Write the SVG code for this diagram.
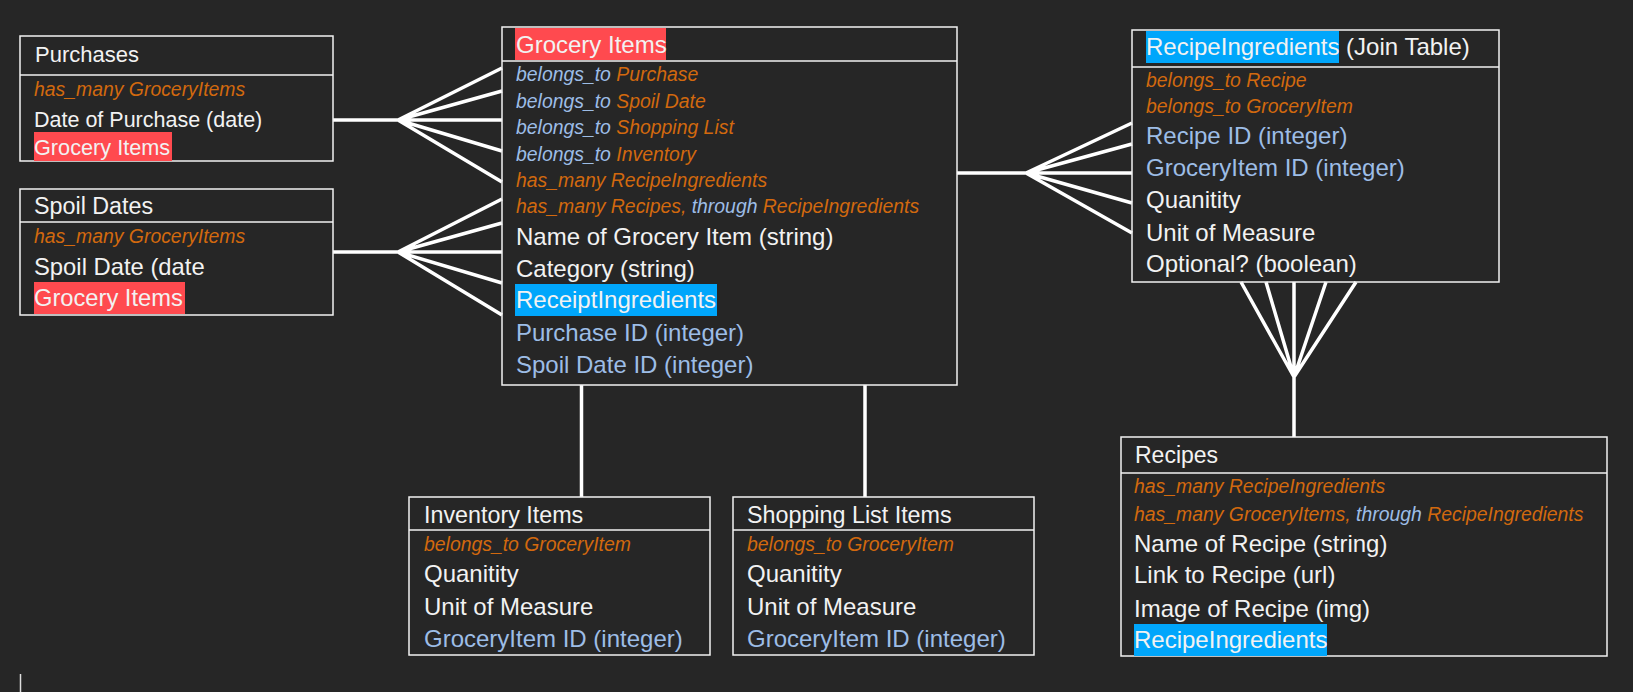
<svg xmlns="http://www.w3.org/2000/svg" width="1633" height="692" viewBox="0 0 1633 692">
<style>
.box{fill:none;stroke:#f2f2f2;stroke-width:1.5}
.t{font-family:"Liberation Sans",Arial,sans-serif;fill:#f2f2f2}
.i{font-family:"Liberation Sans",Arial,sans-serif;font-style:italic;font-size:19.4px}
.o{fill:#d2690e}
.b{fill:#9dbde6}
.w{fill:#f2f2f2}
.hr{fill:#ff4a4f}
.hb{fill:#00a6fb}
.c{stroke:#ffffff;stroke-width:3.5;fill:none;stroke-linecap:butt}
</style>
<rect width="1633" height="692" fill="#262626"/>
<g id="connectors">
<path class="c" d="M333 120H398M398 120L502 68M398 120L502 91M398 120L502 120M398 120L502 151M398 120L502 182"/>
<path class="c" d="M333 252H398M398 252L502 199M398 252L502 223M398 252L502 252M398 252L502 283M398 252L502 315"/>
<path class="c" d="M957 173H1026M1026 173L1132 123M1026 173L1132 144M1026 173L1132 173M1026 173L1132 203M1026 173L1132 233"/>
<path class="c" d="M1294 437V377M1294 377L1241 282M1294 377L1266 282M1294 377L1294 282M1294 377L1326 282M1294 377L1356 282"/>
<path class="c" d="M581.5 385V497M865 385V497"/>
</g>
<g id="purchases">
<rect class="box" x="20" y="36" width="313" height="125"/>
<line class="box" x1="20" y1="75" x2="333" y2="75"/>
<text class="t" x="35" y="62" font-size="22">Purchases</text>
<text class="i o" x="34" y="96">has_many GroceryItems</text>
<text class="t" x="34" y="127" font-size="21.5">Date of Purchase (date)</text>
<rect class="hr" x="34" y="132" width="138" height="29"/>
<text class="t" x="34" y="155" font-size="21.7">Grocery Items</text>
</g>
<g id="spoil-dates">
<rect class="box" x="20" y="189" width="313" height="126"/>
<line class="box" x1="20" y1="222" x2="333" y2="222"/>
<text class="t" x="34" y="214" font-size="23.3">Spoil Dates</text>
<text class="i o" x="34" y="243">has_many GroceryItems</text>
<text class="t" x="34" y="275" font-size="23.8">Spoil Date (date</text>
<rect class="hr" x="34" y="282" width="151" height="32"/>
<text class="t" x="34" y="306" font-size="23.7">Grocery Items</text>
</g>
<g id="grocery-items">
<rect class="box" x="502" y="27" width="455" height="358"/>
<line class="box" x1="502" y1="61" x2="957" y2="61"/>
<rect class="hr" x="515" y="28" width="151" height="32"/>
<text class="t" x="516" y="53" font-size="24">Grocery Items</text>
<text class="i" x="516" y="81"><tspan class="b">belongs_to</tspan><tspan class="o"> Purchase</tspan></text>
<text class="i" x="516" y="108"><tspan class="b">belongs_to</tspan><tspan class="o"> Spoil Date</tspan></text>
<text class="i" x="516" y="134"><tspan class="b">belongs_to</tspan><tspan class="o"> Shopping List</tspan></text>
<text class="i" x="516" y="161"><tspan class="b">belongs_to</tspan><tspan class="o"> Inventory</tspan></text>
<text class="i o" x="516" y="187">has_many RecipeIngredients</text>
<text class="i" x="516" y="213"><tspan class="o">has_many Recipes,</tspan><tspan class="b"> through</tspan><tspan class="o"> RecipeIngredients</tspan></text>
<text class="t" x="516" y="245" font-size="24">Name of Grocery Item (string)</text>
<text class="t" x="516" y="277" font-size="24">Category (string)</text>
<rect class="hb" x="515" y="284" width="202" height="32"/>
<text class="t" x="516" y="308" font-size="24">ReceiptIngredients</text>
<text class="t b" x="516" y="341" font-size="24">Purchase ID (integer)</text>
<text class="t b" x="516" y="373" font-size="24">Spoil Date ID (integer)</text>
</g>
<g id="recipe-ingredients">
<rect class="box" x="1132" y="30" width="367" height="252"/>
<line class="box" x1="1132" y1="67" x2="1499" y2="67"/>
<rect class="hb" x="1146" y="31" width="193" height="32"/>
<text class="t" x="1146" y="55" font-size="24">RecipeIngredients (Join Table)</text>
<text class="i o" x="1146" y="87">belongs_to Recipe</text>
<text class="i o" x="1146" y="113">belongs_to GroceryItem</text>
<text class="t b" x="1146" y="144" font-size="24">Recipe ID (integer)</text>
<text class="t b" x="1146" y="176" font-size="24">GroceryItem ID (integer)</text>
<text class="t" x="1146" y="208" font-size="24">Quanitity</text>
<text class="t" x="1146" y="240.5" font-size="24">Unit of Measure</text>
<text class="t" x="1146" y="272" font-size="24">Optional? (boolean)</text>
</g>
<g id="recipes">
<rect class="box" x="1121" y="437" width="486" height="219"/>
<line class="box" x1="1121" y1="473" x2="1607" y2="473"/>
<text class="t" x="1135" y="463" font-size="23">Recipes</text>
<text class="i o" x="1134" y="493">has_many RecipeIngredients</text>
<text class="i" x="1134" y="521"><tspan class="o">has_many GroceryItems,</tspan><tspan class="b"> through</tspan><tspan class="o"> RecipeIngredients</tspan></text>
<text class="t" x="1134" y="552" font-size="24">Name of Recipe (string)</text>
<text class="t" x="1134" y="583" font-size="24">Link to Recipe (url)</text>
<text class="t" x="1134" y="617" font-size="24">Image of Recipe (img)</text>
<rect class="hb" x="1134" y="624" width="193" height="32"/>
<text class="t" x="1134" y="648" font-size="24">RecipeIngredients</text>
</g>
<g id="inventory-items">
<rect class="box" x="409" y="497" width="301" height="158"/>
<line class="box" x1="409" y1="530" x2="710" y2="530"/>
<text class="t" x="424" y="523" font-size="23.3">Inventory Items</text>
<text class="i o" x="424" y="551">belongs_to GroceryItem</text>
<text class="t" x="424" y="582" font-size="24">Quanitity</text>
<text class="t" x="424" y="615" font-size="24">Unit of Measure</text>
<text class="t b" x="424" y="647" font-size="24">GroceryItem ID (integer)</text>
</g>
<g id="shopping-list-items">
<rect class="box" x="733" y="497" width="301" height="158"/>
<line class="box" x1="733" y1="530" x2="1034" y2="530"/>
<text class="t" x="747" y="523" font-size="23.3">Shopping List Items</text>
<text class="i o" x="747" y="551">belongs_to GroceryItem</text>
<text class="t" x="747" y="582" font-size="24">Quanitity</text>
<text class="t" x="747" y="615" font-size="24">Unit of Measure</text>
<text class="t b" x="747" y="647" font-size="24">GroceryItem ID (integer)</text>
</g>
<line x1="20.5" y1="674" x2="20.5" y2="692" stroke="#dddddd" stroke-width="1.5"/>
</svg>
